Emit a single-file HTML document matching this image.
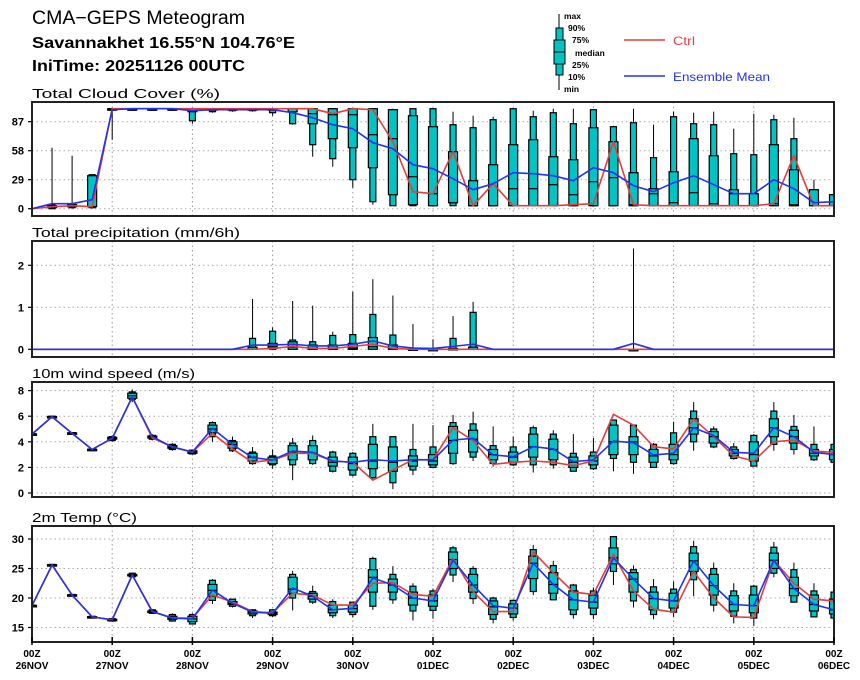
<!DOCTYPE html>
<html><head><meta charset="utf-8">
<style>
html,body{margin:0;padding:0;background:#fff;}
svg{display:block;font-family:"Liberation Sans",sans-serif;}
</style></head>
<body>
<svg id="chart" width="860" height="680" viewBox="0 0 860 680" xmlns="http://www.w3.org/2000/svg">
<text x="32" y="24" font-size="19" textLength="213" lengthAdjust="spacingAndGlyphs">CMA−GEPS Meteogram</text>
<text x="32" y="48" font-size="16" font-weight="bold" textLength="263" lengthAdjust="spacingAndGlyphs">Savannakhet 16.55°N 104.76°E</text>
<text x="32" y="71" font-size="16" font-weight="bold" textLength="213" lengthAdjust="spacingAndGlyphs">IniTime: 20251126 00UTC</text>
<g>
<line x1="559" y1="14" x2="559" y2="90" stroke="#000" stroke-width="1"/>
<rect x="556" y="28" width="7" height="47" fill="#00c4c4" stroke="#000"/>
<rect x="554" y="40" width="11" height="24" fill="#00c4c4" stroke="#000"/>
<line x1="554" y1="52" x2="565" y2="52" stroke="#000"/>
<g font-size="8.5" font-weight="bold">
<text x="564" y="19">max</text><text x="568" y="31">90%</text><text x="572" y="43">75%</text>
<text x="575" y="56">median</text><text x="572" y="68">25%</text><text x="568" y="80">10%</text><text x="564" y="92">min</text>
</g></g>
<g><line x1="624" y1="40" x2="665" y2="40" stroke="#e83c3c" stroke-width="1.5"/><text x="673" y="45" font-size="12" fill="#e83c3c" textLength="22" lengthAdjust="spacingAndGlyphs">Ctrl</text></g>
<g><line x1="624" y1="76" x2="665" y2="76" stroke="#2233ee" stroke-width="1.5"/><text x="673" y="81" font-size="12" fill="#2233ee" textLength="97" lengthAdjust="spacingAndGlyphs">Ensemble Mean</text></g>
</svg>
<script>
const times=41;
const dayLabels=["26NOV","27NOV","28NOV","29NOV","30NOV","01DEC","02DEC","03DEC","04DEC","05DEC","06DEC"];
const cloudTicks=[0,29,58,87];
const cloudCtrl=[0,2,3,2,100,100,100,100,100,100,100,100,100,100,100,95,100,99,67,17,15,57,3,25,3,3,3,4,5,67,4,3,3,3,3,3,3,5,53,3,3];
const cloudMean=[0,5,5,9,99,100,100,100,98,99,99,99,99,96,91,84,80,66,60,44,40,30,19,25,36,35,33,28,41,36,23,17,26,33,24,15,15,29,20,6,7];
const cloudBoxes=[null,[0,0,1,2,3,4,61],[0,1,2,3,4,5,53],[0,1,2,2,33,34,34],[69,100,100,100,100,100,100],[99,100,100,100,100,100,100],[99,100,100,100,100,100,100],[99,100,100,100,100,100,100],[85,88,97,100,100,100,100],[96,97,99,100,100,100,100],[97,98,99,100,100,100,100],[97,98,99,100,100,100,100],[93,96,99,100,100,100,100],[84,85,97,100,100,100,100],[52,64,85,95,100,100,100],[42,50,70,94,100,100,100],[21,29,61,94,100,100,100],[4,7,41,74,100,100,100],[3,3,14,70,99,99,100],[3,3,4,32,93,100,100],[3,3,3,15,82,100,100],[3,3,6,6,57,84,97],[3,3,3,3,28,81,93],[3,3,3,3,44,89,92],[3,3,3,20,64,100,100],[3,3,3,20,69,92,98],[3,3,3,24,52,96,100],[3,3,3,14,49,85,100],[3,3,3,27,81,99,99],[3,3,3,31,67,82,83],[3,3,3,4,36,86,100],[3,3,3,15,20,51,84],[3,3,3,6,37,92,97],[3,3,3,16,70,85,96],[3,3,3,5,53,84,97],[3,3,3,15,19,55,80],[3,3,3,3,15,54,95],[3,3,3,5,64,89,94],[3,3,3,4,39,70,91],[3,3,3,3,19,19,29],[3,3,3,3,14,14,14]];
const precipTicks=[0,1,2];
const precipCtrl=[0,0,0,0,0,0,0,0,0,0,0,0,0.02,0.07,0.02,0.02,0.07,0.12,0.02,0,0,0,0,0,0,0,0,0,0,0,0,0,0,0,0,0,0,0,0,0,0];
const precipMean=[0,0,0,0,0,0,0,0,0,0,0,0.1,0.1,0.12,0.08,0.08,0.12,0.2,0.08,0.03,0.02,0.07,0.12,0,0,0,0,0,0,0,0.14,0,0,0,0,0,0,0,0,0,0];
const precipBoxes=[null,null,null,null,null,null,null,null,null,null,null,[0,0,0,0,0.05,0.26,1.2],[0,0,0.02,0.06,0.14,0.43,0.52],[0,0,0,0.05,0.18,0.22,1.15],[0,0,0,0.02,0.1,0.18,1.04],[0,0,0,0.02,0.1,0.33,0.42],[0,0,0,0.03,0.14,0.35,1.37],[0,0,0,0.06,0.28,0.83,1.67],[0,0,0,0.02,0.1,0.34,1.28],[0,0,0,0,0.01,0.02,0.6],[0,0,0,0,0,0.01,0.24],[0,0,0,0,0.02,0.26,0.79],[0,0,0,0,0.05,0.88,1.13],null,null,null,null,null,null,null,[0,0,0,0,0,0,2.4],null,null,null,null,null,null,null,null,null,null];
const windTicks=[0,2,4,6,8];
const windCtrl=[4.6,5.96,4.66,3.4,4.27,7.5,4.3,3.6,3.2,4.66,3.44,2.4,2.58,3.1,3.1,2.5,2.4,1.0,1.8,2.6,2.6,5.1,4.1,2.24,2.4,2.5,2.4,2.14,2.5,6.15,5.3,3.62,3.44,5.78,4.4,2.9,2.5,4.0,4.14,3.28,3.18];
const windMean=[4.6,5.96,4.66,3.4,4.27,7.5,4.4,3.6,3.2,5.05,3.8,2.76,2.58,3.28,3.18,2.5,2.4,2.6,2.5,2.6,2.58,4.14,4.27,2.97,2.84,3.62,3.44,2.45,2.58,4.06,3.93,2.97,3.1,5.1,4.48,3.18,3.1,5.1,4.4,3.18,3.0];
const windBoxes=[[4.5,4.55,4.58,4.6,4.62,4.65,4.7],[5.9,5.93,5.95,5.96,5.98,6,6.05],[4.6,4.62,4.64,4.66,4.7,4.72,4.75],[3.35,3.37,3.38,3.4,3.42,3.43,3.45],[4.0,4.1,4.2,4.27,4.35,4.4,4.5],[7.1,7.3,7.4,7.6,7.8,7.9,8.1],[4.1,4.2,4.3,4.4,4.45,4.5,4.6],[3.3,3.4,3.5,3.6,3.7,3.8,3.9],[3.0,3.05,3.1,3.2,3.3,3.35,3.4],[4.0,4.4,4.7,5.0,5.3,5.5,5.6],[3.2,3.3,3.5,3.8,4.0,4.1,4.4],[2.2,2.3,2.5,2.8,3.1,3.2,3.6],[1.9,2.2,2.3,2.6,2.8,2.9,3.4],[1.0,2.2,2.6,3.2,3.7,3.9,4.3],[2.2,2.3,2.6,3.1,3.7,4.1,4.5],[1.6,1.7,2.1,2.4,2.8,3.2,3.3],[1.3,1.4,1.8,2.3,2.8,3.1,3.2],[1.0,1.2,1.9,2.5,3.8,4.4,5.4],[0.3,0.8,1.7,2.4,3.6,4.4,4.4],[1.4,1.8,2.1,2.5,2.9,3.4,5.4],[2.0,2.0,2.2,2.5,3.0,3.6,5.3],[2.2,2.3,3.1,4.1,5.2,5.5,6.1],[2.5,2.8,3.2,4.2,4.9,5.4,6.35],[2.06,2.3,2.6,3.0,3.4,3.7,5.2],[2.1,2.2,2.4,2.8,3.2,3.6,4.4],[1.6,2.2,2.8,3.6,4.6,5.1,5.26],[1.9,2.2,2.6,3.4,4.2,4.6,4.9],[1.7,1.7,2.0,2.4,2.8,3.1,4.6],[1.8,1.9,2.2,2.5,2.9,3.2,4.3],[1.7,2.7,3.0,4.0,5.3,5.7,5.7],[1.5,2.4,3.0,4.0,4.4,5.3,5.3],[2.0,2.0,2.4,2.9,3.4,3.8,3.9],[2.2,2.3,2.6,3.0,3.8,4.7,5.57],[3.3,4.0,4.6,5.1,5.8,6.4,7.1],[3.5,3.6,3.9,4.4,4.8,5.0,5.2],[2.6,2.7,2.9,3.1,3.4,3.6,3.9],[2.1,2.1,2.5,3.0,4.0,4.5,4.6],[3.3,3.8,4.4,5.1,5.8,6.4,7.1],[3.0,3.4,3.9,4.4,4.9,5.2,6.1],[2.5,2.6,2.9,3.1,3.4,3.8,5.2],[2.4,2.4,2.6,3.0,3.4,3.8,3.8]];
const tempTicks=[15,20,25,30];
const tempCtrl=[18.7,25.6,20.5,16.8,16.3,23.9,17.7,16.6,16.6,20.5,19.3,17.7,17.5,20.8,20.5,18.8,18.8,22.5,22.6,20.6,20.3,26.7,21.1,17.7,17.7,27.8,24.3,21.0,20.6,27.4,21.2,18.1,17.6,24.5,20.0,16.8,16.7,26.4,22.5,19.8,19.5];
const tempMean=[18.7,25.6,20.5,16.8,16.3,23.9,17.7,16.6,16.45,21.35,19.1,17.6,17.4,21.7,20.3,18.0,18.25,23.4,22.2,20.0,19.5,26.4,22.2,18.7,18.25,25.9,22.3,19.7,19.3,26.8,23.2,19.9,19.5,26.3,22.1,18.9,18.7,26.4,21.6,18.9,18.0];
const tempBoxes=[[18.5,18.6,18.65,18.7,18.75,18.8,18.9],[25.5,25.55,25.6,25.6,25.65,25.7,25.7],[20.4,20.45,20.5,20.5,20.55,20.6,20.6],[16.7,16.75,16.8,16.8,16.85,16.9,16.9],[16.0,16.1,16.2,16.3,16.4,16.5,16.6],[23.5,23.6,23.8,23.9,24.0,24.2,24.3],[17.3,17.4,17.6,17.7,17.8,18.0,18.1],[16.0,16.1,16.4,16.6,16.9,17.2,17.4],[15.5,15.6,16.0,16.45,16.9,17.2,17.4],[19.0,19.6,20.3,21.3,22.3,23.0,23.2],[18.4,18.6,18.9,19.1,19.4,19.8,19.9],[16.6,17.0,17.3,17.6,17.8,18.0,18.1],[16.8,17.0,17.2,17.4,17.6,18.0,18.1],[17.9,20.0,20.8,21.5,23.5,24.0,24.6],[19.0,19.3,19.8,20.3,20.8,21.1,22.1],[16.6,17.0,17.5,18.0,18.8,19.4,19.8],[16.7,17.2,17.6,18.2,18.8,19.3,19.4],[18.0,18.6,21.0,23.5,24.8,26.7,27.0],[19.0,19.7,21.0,22.2,23.2,24.0,25.4],[16.2,17.8,18.8,20.0,21.0,22.0,22.5],[16.5,17.9,18.6,19.5,20.5,21.2,21.6],[22.7,23.9,25.0,26.5,27.8,28.5,28.8],[19.0,19.9,21.0,22.2,24.0,25.0,25.4],[15.7,16.4,17.2,18.5,19.5,20.0,20.2],[16.2,16.7,17.3,18.3,19.0,19.6,19.7],[20.5,21.1,23.3,25.9,27.1,28.2,29.0],[19.6,19.7,20.8,22.3,24.3,25.5,26.3],[16.5,17.2,18.0,19.7,21.2,22.2,22.4],[16.4,17.2,18.3,19.3,20.5,21.2,21.8],[22.2,24.5,25.8,26.8,28.5,30.4,30.5],[18.4,19.5,21.0,23.2,24.3,24.8,25.5],[16.4,17.2,18.0,19.9,21.0,21.9,23.2],[16.8,17.6,18.3,19.5,20.8,21.5,22.8],[20.3,23.1,24.5,26.3,27.6,28.7,29.7],[17.7,18.8,20.5,22.1,24.0,25.0,26.0],[15.7,16.9,17.8,18.9,20.4,21.2,22.5],[15.3,16.6,17.5,18.7,20.5,22.0,22.2],[23.5,24.2,25.0,26.4,27.6,28.6,29.5],[19.2,19.3,20.4,21.6,23.5,24.8,26.0],[16.8,16.8,17.8,18.9,20.5,21.2,22.5],[16.0,16.6,17.3,18.0,19.8,21.0,21.2]];

const NS="http://www.w3.org/2000/svg";
const svg=document.getElementById('chart');
const X0=32,X1=834,STEP=(X1-X0)/40;
function xPos(i){return X0+i*STEP;}
function mk(tag,attrs,parent){const e=document.createElementNS(NS,tag);for(const k in attrs)e.setAttribute(k,attrs[k]);(parent||svg).appendChild(e);return e;}

const panels=[
 {key:'cloud',title:'Total Cloud Cover (%)',tw:188,top:102,bottom:216,y0:208.7,v0:0,scale:1.0,ticks:cloudTicks,ctrl:cloudCtrl,mean:cloudMean,boxes:cloudBoxes},
 {key:'precip',title:'Total precipitation (mm/6h)',tw:208,top:241,bottom:357,y0:349.3,v0:0,scale:42,ticks:precipTicks,ctrl:precipCtrl,mean:precipMean,boxes:precipBoxes},
 {key:'wind',title:'10m wind speed (m/s)',tw:163,top:382,bottom:497,y0:493,v0:0,scale:12.8,ticks:windTicks,ctrl:windCtrl,mean:windMean,boxes:windBoxes},
 {key:'temp',title:'2m Temp (°C)',tw:105,top:526,bottom:642,y0:598,v0:20,scale:5.9,ticks:tempTicks,ctrl:tempCtrl,mean:tempMean,boxes:tempBoxes}
];

panels.forEach(function(p){
  function yPos(v){return p.y0-(v-p.v0)*p.scale;}
  const g=mk('g',{});
  
  
  const t=mk('text',{x:32,y:p.top-4,'font-size':12.5,textLength:p.tw,lengthAdjust:'spacingAndGlyphs'},g);
  t.textContent=p.title;
  
  
  const clip=mk('clipPath',{id:'clip-'+p.key},g);
  mk('rect',{x:X0,y:p.top,width:X1-X0,height:p.bottom-p.top},clip);
  for(let d=1;d<10;d++){
    const gl=mk('line',{x1:xPos(d*4),x2:xPos(d*4),y1:p.top,y2:p.bottom,stroke:'#999','stroke-width':1,'stroke-dasharray':'1.5,3'},g);
    
    
  }
  p.ticks.forEach(function(tv){
    const y=yPos(tv);
    const gl=mk('line',{x1:X0,x2:X1,y1:y,y2:y,stroke:'#aaa','stroke-width':1,'stroke-dasharray':'1.5,3'},g);
    
    
    mk('line',{x1:X0-4,x2:X0,y1:y,y2:y,stroke:'#000','stroke-width':1.2},g);
    const lt=mk('text',{x:X0-8,y:y+4,'font-size':11,'font-weight':'bold','text-anchor':'end'},g);
    lt.textContent=tv;
    
    
  });
  const inner=mk('g',{'clip-path':'url(#clip-'+p.key+')'},g);
  p.boxes.forEach(function(b,i){
    if(!b)return;
    const x=xPos(i);
    const bg=mk('g',{},inner);
    
    
    mk('line',{x1:x,x2:x,y1:yPos(b[0]),y2:yPos(b[6]),stroke:'#000','stroke-width':1},bg);
    const y90=yPos(b[5]),y10=yPos(b[1]);
    mk('rect',{x:x-3,y:y90,width:6,height:Math.max(y10-y90,1.5),fill:'#00c4c4',stroke:'#000','stroke-width':1.2},bg);
    const y75=yPos(b[4]),y25=yPos(b[2]);
    mk('rect',{x:x-4.5,y:y75,width:9,height:Math.max(y25-y75,1.5),fill:'#00c4c4',stroke:'#000','stroke-width':1.2},bg);
    const ym=yPos(b[3]);
    mk('line',{x1:x-4.5,x2:x+4.5,y1:ym,y2:ym,stroke:'#000','stroke-width':1.2},bg);
  });
  function series(arr,color,name){
    const pts=arr.map(function(v,i){return xPos(i).toFixed(2)+','+yPos(v).toFixed(2);}).join(' ');
    const pl=mk('polyline',{points:pts,fill:'none',stroke:color,'stroke-width':1.6,'stroke-linejoin':'round'},inner);
    
    
  }
  series(p.ctrl,'#e83c3c',p.key+'-ctrl-line');
  series(p.mean,'#2233ee',p.key+'-mean-line');
  const fr=mk('rect',{x:X0,y:p.top,width:X1-X0,height:p.bottom-p.top,fill:'none',stroke:'#222','stroke-width':2},g);
  
  
});
dayLabels.forEach(function(lbl,d){
  const x=xPos(d*4);
  mk('line',{x1:x,x2:x,y1:637,y2:645,stroke:'#000','stroke-width':1.5});
  const a=mk('text',{x:x,y:657,'font-size':10,'font-weight':'bold','text-anchor':'middle'});
  a.textContent='00Z';
  
  
  const b=mk('text',{x:x,y:669,'font-size':10,'font-weight':'bold','text-anchor':'middle'});
  b.textContent=lbl;
  
  
});
</script>
</body></html>
